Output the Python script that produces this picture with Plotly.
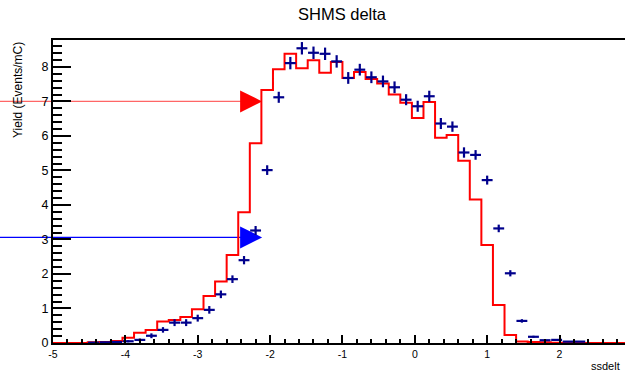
import plotly.graph_objects as go

# Binning of the delta histogram: 50 uniform bins on [-5, 3]
bin_lo = -5.0
bin_width = 0.16
n_bins = 50

# Simulated yield per bin (Events/mC), red outline
sim_yield = [0.00, 0.00, 0.00, 0.02, 0.03, 0.06, 0.15, 0.30, 0.38, 0.62,
             0.67, 0.75, 0.98, 1.36, 1.78, 2.55, 3.79, 5.79, 7.33, 7.93,
             8.38, 7.96, 8.19, 7.83, 8.14, 7.68, 7.85, 7.65, 7.52, 7.20,
             6.96, 6.52, 6.98, 5.95, 6.03, 5.28, 4.16, 2.84, 1.10, 0.23,
             0.04, 0.03, 0.02, 0.01, 0.00, 0.00, 0.00, 0.00, 0.00, 0.00]

# Measured yield, bins 3..45, with statistical errors
data_first_bin = 3
data_yield = [0.01, 0.02, 0.03, 0.05, 0.09, 0.21, 0.38, 0.59, 0.59, 0.72,
              0.96, 1.41, 1.85, 2.40, 3.26, 5.01, 7.12, 8.11, 8.54, 8.41,
              8.38, 8.16, 7.68, 7.92, 7.70, 7.58, 7.41, 7.05, 6.86, 7.15,
              6.36, 6.27, 5.52, 5.45, 4.72, 3.32, 2.02, 0.64, 0.18, 0.08,
              0.09, 0.04, 0.04]
data_err = [0.01, 0.01, 0.02, 0.03, 0.04, 0.07, 0.08, 0.10, 0.10, 0.10,
            0.11, 0.11, 0.11, 0.12, 0.13, 0.14, 0.16, 0.18, 0.18, 0.18,
            0.18, 0.18, 0.17, 0.17, 0.17, 0.17, 0.17, 0.16, 0.16, 0.16,
            0.16, 0.15, 0.15, 0.14, 0.13, 0.11, 0.09, 0.05, 0.03, 0.02,
            0.02, 0.01, 0.01]

# Reference levels marked with arrows
arrow_levels = [7.0, 3.06]
arrow_colors = ["#ff0000", "#0000ff"]
arrow_line_colors = ["#ff6666", "#0000ff"]
arrow_tip_x = -2.11

x_tick_vals = [-5, -4, -3, -2, -1, 0, 1, 2]
x_tick_text = ["-5", "-4", "-3", "-2", "-1", "0", "1", "2"]

x_range = [-5.0, 2.905]
y_range = [0.0, 8.78]

W, H = 625, 374
ML, MR, MT, MB = 53, 0, 40, 31

edges = [bin_lo + i * bin_width for i in range(n_bins + 1)]
centers = [bin_lo + (data_first_bin + i + 0.5) * bin_width for i in range(len(data_yield))]

fig = go.Figure()

fig.add_trace(go.Scatter(
    x=edges, y=sim_yield + [sim_yield[-1]],
    mode="lines", line=dict(color="#ff0000", width=2, shape="hv"),
    showlegend=False, hoverinfo="skip",
))

fig.add_trace(go.Scatter(
    x=centers, y=data_yield, mode="markers",
    marker=dict(size=2, color="#00008c", opacity=0),
    error_x=dict(type="constant", value=bin_width * 0.47, width=0,
                 thickness=2.2, color="#00008c"),
    error_y=dict(type="data", array=data_err, width=0,
                 thickness=2.2, color="#00008c"),
    showlegend=False,
))

shapes = []
plot_w = W - ML - MR
tip_paper = (arrow_tip_x - x_range[0]) / (x_range[1] - x_range[0])
for lvl, col, lcol in zip(arrow_levels, arrow_colors, arrow_line_colors):
    shapes.append(dict(
        type="line", xref="paper", yref="y",
        x0=-ML / plot_w, x1=tip_paper - 10 / plot_w, y0=lvl, y1=lvl,
        line=dict(color=lcol, width=1.2), layer="below",
    ))
    shapes.append(dict(
        type="path", xref="x", yref="y",
        xsizemode="pixel", ysizemode="pixel",
        xanchor=arrow_tip_x, yanchor=lvl,
        path="M0,0 L-22,11 L-22,-11 Z",
        fillcolor=col, line=dict(width=0), layer="below",
    ))

fig.update_layout(
    width=W, height=H,
    margin=dict(l=ML, r=MR, t=MT, b=MB, pad=0),
    paper_bgcolor="white", plot_bgcolor="white",
    font=dict(family="Liberation Sans, Arial, sans-serif", color="black"),
    title=dict(text="SHMS delta", x=342 / W, xanchor="center",
               y=1 - 14 / H, yanchor="middle",
               font=dict(size=16.5, color="black")),
    shapes=shapes,
    annotations=[
        dict(text="Yield (Events/mC)", textangle=-90, showarrow=False,
             xref="paper", yref="paper", x=(18 - ML) / plot_w, xanchor="center",
             y=1, yanchor="top", font=dict(size=12, color="black")),
        dict(text="ssdelt", showarrow=False, xref="paper", yref="paper",
             x=1 - 3 / plot_w, xanchor="right",
             y=-(366 - (H - MB)) / (H - MT - MB), yanchor="middle",
             font=dict(size=11, color="black")),
    ],
)

fig.update_xaxes(
    range=x_range, showgrid=False, zeroline=False,
    showline=True, linecolor="black", linewidth=2, mirror=True,
    tickmode="array", tickvals=x_tick_vals, ticktext=x_tick_text,
    ticks="inside", ticklen=8, tickwidth=2, tickcolor="black",
    tickfont=dict(size=10.5, color="black"),
    minor=dict(ticks="inside", ticklen=4, tickwidth=1.5, tickcolor="black",
               tick0=-5, dtick=0.2),
)
fig.update_yaxes(
    range=y_range, showgrid=False, zeroline=False,
    showline=True, linecolor="black", linewidth=2,
    tickmode="linear", tick0=0, dtick=1,
    ticks="inside", ticklen=18, tickwidth=2, tickcolor="black",
    tickfont=dict(size=12.5, color="black"),
    minor=dict(ticks="inside", ticklen=9, tickwidth=2, tickcolor="black",
               tick0=0, dtick=0.2),
)

fig.write_html("out.html")
